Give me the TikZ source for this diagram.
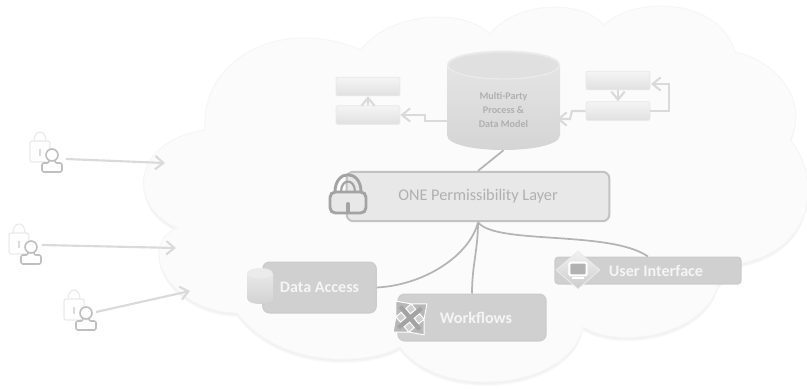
\documentclass[tikz,border=0pt]{standalone}
\usepackage{fontspec}
\setmainfont{Carlito}
\usepackage{tikz}
\usetikzlibrary{shapes}
\usetikzlibrary{shapes.geometric}
\usetikzlibrary{arrows.meta}
\definecolor{cloudfill}{HTML}{FBFBFB}
\definecolor{cloudline}{HTML}{F6F6F6}
\definecolor{linkgray}{HTML}{DADADA}
\definecolor{wiregray}{HTML}{B4B4B4}
\definecolor{boxgray}{HTML}{D0D0D0}
\definecolor{textgray}{HTML}{B0B0B0}
\tikzstyle{arrow}=[draw=linkgray,line width=1.6pt,-{Straight Barb[length=6pt,width=10pt]}]
\tikzstyle{wire}=[draw=wiregray,line width=1.3pt]
\tikzstyle{small}=[rectangle,rounded corners=1.5pt,draw=black!9,line width=.6pt,top color=black!4,bottom color=black!12,minimum width=48pt,minimum height=14pt,inner sep=0]
\tikzstyle{dark}=[rectangle,rounded corners=5pt,draw=black!20,fill=boxgray,line width=1pt,text=white!96!black,font=\bfseries\fontsize{12.1}{14}\selectfont,inner sep=0]
\tikzstyle{layer}=[rectangle,rounded corners=5pt,draw=black!24,fill=black!9,line width=1.5pt,text=textgray,inner sep=0,minimum width=197pt,minimum height=37pt]
\tikzset{
  every picture/.style={x=.75pt,y=-.75pt},
  userlock/.pic={
    \draw[black!8,line width=.9pt,fill=white] (-18,-14) .. controls (-18,-26) and (-6,-26) .. (-6,-14);
    \draw[black!8,line width=.9pt,fill=white,rounded corners=1.5pt] (-22,-14) rectangle (-2,7);
    \draw[black!14,line width=1pt] (-12,-6) -- (-12,1);
    \draw[black!25,line width=1.2pt,fill=white,rounded corners=1.5pt] (-3,5) -- (-3,8) -- (-10,8) -- (-10,17) -- (10,17) -- (10,8) -- (3,8) -- (3,5);
    \draw[black!25,line width=1.2pt,fill=white] (0,0) circle [radius=6];
  },
  padlock/.pic={
    \draw[black!36,line width=2.2pt] (-13,-2) .. controls (-13,-25) and (13,-25) .. (13,-2);
    \draw[black!36,line width=1.6pt] (-7,-2) .. controls (-7,-16) and (7,-16) .. (7,-2);
    \draw[black!36,line width=2.2pt,fill=black!9,rounded corners=4pt] (-18,-2) rectangle (18,19);
    \draw[black!36,line width=3pt,line cap=round] (0,10) -- (0,18);
  },
  crossarrows/.pic={
    \draw[draw=white,fill=black!28,line width=.7pt,rotate=40]
      (3,-3) -- (3,-10) -- (10,-10) -- (0,-22) -- (-10,-10) -- (-3,-10) -- (-3,-3)
      -- (-10,-3) -- (-10,-10) -- (-22,0) -- (-10,10) -- (-10,3) -- (-3,3)
      -- (-3,10) -- (-10,10) -- (0,22) -- (10,10) -- (3,10) -- (3,3)
      -- (10,3) -- (10,10) -- (22,0) -- (10,-10) -- (10,-3) -- cycle;
    \draw[black!36,line width=3pt,rotate=40] (-15,0) -- (15,0) (0,-15) -- (0,15);
  }
}
\newcommand{\cloudpath}{(177,228) .. controls (125,205) and (133,140) .. (205,130)
  .. controls (200,60) and (280,15) .. (361,50)
  .. controls (385,15) and (460,5) .. (490,34)
  .. controls (515,2) and (580,-2) .. (604,25)
  .. controls (635,-5) and (720,-2) .. (735,52)
  .. controls (775,60) and (810,100) .. (790,140)
  .. controls (815,165) and (825,245) .. (743,263)
  -- (718,285)
  .. controls (705,335) and (620,350) .. (583,327)
  .. controls (570,390) and (440,402) .. (400,347)
  .. controls (370,365) and (280,370) .. (237,313)
  .. controls (170,312) and (135,245) .. (177,228) -- cycle}
\begin{document}
\begin{tikzpicture}
      \useasboundingbox (0,0) rectangle (807,389);
      \foreach \d in {4,3,2,1}
        \fill[black!12,opacity=.16,shift={(0,\d)}] \cloudpath;
      \draw[draw=cloudline,fill=cloudfill,line width=.8pt] \cloudpath;

      \path[top color=black!9,bottom color=black!17] (447,65) -- (447,135) .. controls (447,155) and (560,155) .. (560,135) -- (560,65) .. controls (560,46) and (447,46) .. (447,65) -- cycle;
      \fill[black!12] (503.5,66) ellipse [x radius=55,y radius=13];
      \draw[black!7,line width=.7pt] (503.5,65) ellipse [x radius=56,y radius=14];
      \node[rectangle,minimum width=84pt,minimum height=75pt,inner sep=0] at (503.5,100) (db) {};
      \node[align=center,text=textgray,font=\bfseries\fontsize{7.6}{10.4}\selectfont] at (503.5,110) (dbtext) {Multi-Party\\Process \&\\Data Model};

      \node[small] at (368,86.5) (upleft) {};
      \node[small] at (368,115) (lowleft) {};
      \node[small] at (618,80.5) (upright) {};
      \node[small] at (618,111) (lowright) {};
      \coordinate (dbleft) at (447,121);
      \coordinate (dbright) at (557,119);
      \coordinate (feedback) at (651,84);
      \draw[arrow] (lowleft)--(upleft);
      \draw[arrow] (upright)--(lowright);
      \draw[arrow] (dbleft)--(425,121)--(425,115)--(lowleft.east);
      \draw[arrow] (lowright.west)--(572,111)--(570,119)--(dbright);
      \draw[arrow] (lowright.east)--(669,111)--(669,84)--(feedback);

      \node[layer,font=\fontsize{12.2}{15}\selectfont] at (478,196.5) (perm) {ONE Permissibility Layer};
      \pic at (348,194) {padlock};
      \draw[wire] (db.south)--(perm.north);

      \node[dark,minimum width=85pt,minimum height=38pt] at (319.5,287.5) (data) {Data Access};
      \path[top color=black!7,bottom color=black!18] (247,274) -- (247,298) .. controls (247,306) and (273,306) .. (273,298) -- (273,274) .. controls (273,266) and (247,266) .. (247,274) -- cycle;
      \fill[black!8] (260,274) ellipse [x radius=12,y radius=4.5];

      \node[dark,minimum width=111pt,minimum height=35pt] at (472,317.5) (flow) {\hspace*{6pt}Workflows};
      \pic at (410,318) {crossarrows};

      \node[dark,minimum width=139.5pt,minimum height=20pt,rounded corners=2.5pt] at (648,270.5) (ui) {\hspace*{12pt}User Interface};
      \node[diamond,draw=black!8,top color=black!5,bottom color=black!20,minimum width=33pt,minimum height=28.5pt,inner sep=0,line width=.6pt] at (578,270) (uiicon) {};
      \node[rectangle,draw=white,fill=black!30,line width=1.5pt,rounded corners=1pt,minimum width=13pt,minimum height=9.5pt,inner sep=0] at (578,269) (screen) {};
      \fill[white] (572,277) rectangle (584,279);

      \draw[wire] (perm.south) .. controls (470,255) and (425,285) .. (data.east);
      \draw[wire] (perm.south) .. controls (478,250) and (472,265) .. (flow.north);
      \draw[wire] (perm.south) .. controls (495,245) and (610,230) .. (ui.north);

      \pic at (52,155) {userlock};
      \pic at (31,247) {userlock};
      \pic at (86,313) {userlock};
      \coordinate (user1) at (66,159);
      \coordinate (user2) at (42,245);
      \coordinate (user3) at (96,312);
      \coordinate (in1) at (165,163);
      \coordinate (in2) at (176,248);
      \coordinate (in3) at (190,291);
      \draw[arrow] (user1)--(in1);
      \draw[arrow] (user2)--(in2);
      \draw[arrow] (user3)--(in3);
    \end{tikzpicture}
\end{document}
